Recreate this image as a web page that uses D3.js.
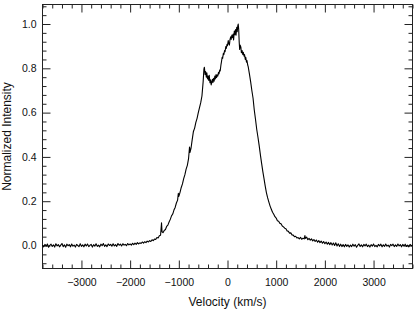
<!DOCTYPE html>
<html>
<head>
<meta charset="utf-8">
<script src="https://cdn.jsdelivr.net/npm/d3@7"></script>
<style>
  html, body { margin: 0; padding: 0; background: #fff; }
  svg { display: block; }
  text { font-family: "Liberation Sans", Arial, sans-serif; fill: #111; }
</style>
</head>
<body>
<svg id="chart" width="415" height="311"></svg>
<script>
// spectrum: [velocity (km/s), normalized intensity]
const spectrum = [
  [-3800,0.002],[-3775,-0.006],[-3750,0.005],[-3725,-0.003],[-3700,0.007],[-3675,-0.008],[-3650,0.001],[-3625,0.006],[-3600,-0.004],[-3575,0.003],
  [-3550,-0.007],[-3525,0.008],[-3500,-0.002],[-3475,0.004],[-3450,-0.006],[-3425,0.002],[-3400,0.009],[-3375,-0.005],[-3350,0.003],[-3325,-0.008],
  [-3300,0.006],[-3275,-0.001],[-3250,0.004],[-3225,-0.006],[-3200,0.007],[-3175,-0.003],[-3150,0.002],[-3125,-0.007],[-3100,0.005],[-3075,0.000],
  [-3050,-0.005],[-3025,0.008],[-3000,-0.004],[-2975,0.003],[-2950,-0.006],[-2925,0.006],[-2900,-0.002],[-2875,0.007],[-2850,-0.005],[-2825,0.001],
  [-2800,0.005],[-2775,-0.007],[-2750,0.004],[-2725,-0.003],[-2700,0.008],[-2675,-0.004],[-2650,0.002],[-2625,-0.006],[-2600,0.006],[-2575,-0.001],
  [-2550,0.009],[-2525,-0.004],[-2500,0.003],[-2475,-0.005],[-2450,0.007],[-2425,0.000],[-2400,0.005],[-2375,-0.003],[-2350,0.008],[-2325,-0.002],
  [-2300,0.004],[-2275,-0.004],[-2250,0.009],[-2225,0.001],[-2200,0.006],[-2175,-0.002],[-2150,0.008],[-2125,0.002],[-2100,0.005],[-2075,-0.001],
  [-2050,0.009],[-2025,0.003],[-2000,0.007],
  [-1975,0.002],[-1950,0.010],[-1925,0.004],[-1900,0.011],[-1875,0.005],[-1850,0.013],[-1825,0.007],[-1800,0.012],[-1775,0.009],[-1750,0.016],
  [-1725,0.011],[-1700,0.017],[-1675,0.013],[-1650,0.020],[-1625,0.016],[-1600,0.022],[-1575,0.018],[-1550,0.026],[-1525,0.022],[-1500,0.029],
  [-1475,0.027],[-1450,0.036],[-1425,0.034],[-1400,0.044],[-1375,0.046],[-1355,0.102],[-1345,0.062],[-1325,0.058],[-1300,0.068],[-1275,0.072],
  [-1250,0.086],[-1225,0.092],[-1200,0.106],[-1175,0.118],[-1150,0.134],[-1125,0.142],[-1100,0.160],[-1075,0.172],[-1050,0.192],[-1025,0.205],
  [-1010,0.236],[-1000,0.222],[-975,0.240],[-950,0.262],[-925,0.278],[-900,0.302],[-875,0.320],[-850,0.345],[-825,0.362],[-800,0.392],
  [-780,0.445],[-770,0.420],[-750,0.438],[-725,0.478],[-700,0.515],[-675,0.530],[-650,0.556],[-625,0.574],[-600,0.600],[-575,0.622],
  [-550,0.645],[-525,0.675],[-500,0.740],[-485,0.795],[-475,0.805],[-460,0.772],[-450,0.785],[-435,0.760],[-425,0.780],[-410,0.752],
  [-400,0.765],[-385,0.745],[-375,0.768],[-360,0.735],[-350,0.748],[-335,0.725],[-325,0.738],[-310,0.750],[-300,0.735],[-285,0.755],
  [-275,0.742],[-260,0.765],[-250,0.752],[-235,0.772],[-225,0.758],[-210,0.770],[-200,0.765],[-185,0.782],[-175,0.775],[-160,0.792],
  [-150,0.788],[-135,0.815],[-125,0.828],[-110,0.850],[-100,0.845],[-85,0.868],[-75,0.862],[-60,0.880],[-50,0.875],[-35,0.898],
  [-25,0.890],[-10,0.908],[0,0.902],[15,0.925],[25,0.912],[40,0.905],[50,0.928],[65,0.942],[75,0.930],[90,0.950],
  [100,0.938],[115,0.955],[125,0.928],[140,0.968],[150,0.952],[165,0.975],[175,0.950],[190,0.985],[200,0.965],[210,0.990],
  [220,1.000],[230,0.975],[240,0.920],[250,0.885],[260,0.905],[275,0.895],[285,0.870],[300,0.880],[315,0.862],[325,0.872],
  [340,0.855],[350,0.862],[365,0.840],[375,0.850],[390,0.828],[400,0.835],[415,0.815],[425,0.808],[450,0.775],[475,0.740],
  [500,0.700],[525,0.665],[550,0.612],[575,0.570],[600,0.525],[625,0.490],[650,0.452],[675,0.410],[700,0.372],[725,0.335],
  [750,0.302],[775,0.268],[800,0.238],[825,0.215],[850,0.196],[875,0.178],[900,0.164],[925,0.150],[950,0.141],[975,0.130],
  [1000,0.124],[1025,0.112],[1050,0.110],[1075,0.100],[1100,0.098],[1125,0.088],[1150,0.084],[1175,0.078],[1200,0.076],[1225,0.066],
  [1250,0.064],[1275,0.056],[1300,0.057],[1325,0.048],[1350,0.047],[1375,0.040],[1400,0.042],[1425,0.034],[1450,0.036],[1475,0.030],
  [1500,0.037],[1525,0.028],[1550,0.033],[1575,0.030],[1590,0.045],[1600,0.032],[1625,0.038],[1650,0.026],[1675,0.032],[1700,0.024],
  [1725,0.030],[1750,0.021],[1775,0.027],[1800,0.018],[1825,0.025],[1850,0.015],[1875,0.022],[1900,0.013],[1925,0.020],[1950,0.010],
  [1975,0.018],[2000,0.008],[2025,0.016],[2050,0.006],[2075,0.014],[2100,0.004],[2125,0.013],[2150,0.002],[2175,0.011],[2200,0.000],
  [2225,0.012],[2250,-0.002],[2275,0.008],[2300,-0.004],[2325,0.006],[2350,-0.005],[2375,0.004],[2400,-0.006],[2425,0.005],
  [2450,-0.004],[2475,0.003],[2500,-0.007],[2525,0.002],[2550,-0.005],[2575,0.006],[2600,-0.003],[2625,0.004],[2650,-0.008],[2675,0.001],
  [2700,0.007],[2725,-0.004],[2750,0.003],[2775,-0.006],[2800,0.005],[2825,-0.002],[2850,0.006],[2875,-0.005],[2900,0.002],[2925,-0.007],
  [2950,0.004],[2975,-0.003],[3000,0.007],[3025,-0.005],[3050,0.001],[3075,-0.006],[3100,0.005],[3125,-0.002],[3150,0.006],[3175,-0.006],
  [3200,0.003],[3225,-0.004],[3250,0.007],[3275,-0.003],[3300,0.002],[3325,-0.007],[3350,0.005],[3375,-0.001],[3400,0.006],[3425,-0.005],
  [3450,0.003],[3475,-0.004],[3500,0.007],[3525,-0.002],[3550,0.004],[3575,-0.006],[3600,0.005],[3625,-0.003],[3650,0.006],[3675,-0.004],
  [3700,0.002],[3725,-0.006],[3750,0.005],[3775,-0.002],[3800,0.003]
];
const xMajorTicks = [-3000, -2000, -1000, 0, 1000, 2000, 3000];
const xMinorTicks = [-3800,-3600,-3400,-3200,-2800,-2600,-2400,-2200,-1800,-1600,-1400,-1200,-800,-600,-400,-200,
                     200,400,600,800,1200,1400,1600,1800,2200,2400,2600,2800,3200,3400,3600,3800];
const yMajorTicks = [0.0, 0.2, 0.4, 0.6, 0.8, 1.0];
const yMinorTicks = [-0.08,-0.04,0.04,0.08,0.12,0.16,0.24,0.28,0.32,0.36,0.44,0.48,0.52,0.56,0.64,0.68,0.72,0.76,0.84,0.88,0.92,0.96,1.04,1.08];
const xTitle = "Velocity (km/s)";
const yTitle = "Normalized Intensity";

const svg = d3.select("#chart");
const L = 42.5, R = 412.5, T = 4.5, B = 268.5;
const x = d3.scaleLinear().domain([-3800, 3800]).range([L, R]);
const y = d3.scaleLinear().domain([-0.1038, 1.0881]).range([B, T]);

const axisColor = "#222";
function styleAxis(g) {
  g.select(".domain").remove();
  g.selectAll(".tick line").attr("stroke", axisColor).attr("stroke-width", 1);
  g.selectAll(".tick text").attr("font-size", 10.5).attr("fill", "#111")
    .style("font-family", "'Liberation Sans', Arial, sans-serif");
}

// bottom
svg.append("g").attr("transform", `translate(0,${B})`)
  .call(d3.axisBottom(x).tickValues(xMajorTicks).tickSizeInner(-8).tickSizeOuter(0).tickPadding(10).tickFormat(d3.format("d")))
  .call(styleAxis);
svg.append("g").attr("transform", `translate(0,${B})`)
  .call(d3.axisBottom(x).tickValues(xMinorTicks).tickSizeInner(-4).tickSizeOuter(0).tickFormat(""))
  .call(styleAxis);
// top
svg.append("g").attr("transform", `translate(0,${T})`)
  .call(d3.axisTop(x).tickValues(xMajorTicks).tickSizeInner(-8).tickSizeOuter(0).tickFormat(""))
  .call(styleAxis);
svg.append("g").attr("transform", `translate(0,${T})`)
  .call(d3.axisTop(x).tickValues(xMinorTicks).tickSizeInner(-4).tickSizeOuter(0).tickFormat(""))
  .call(styleAxis);
// left
svg.append("g").attr("transform", `translate(${L},0)`)
  .call(d3.axisLeft(y).tickValues(yMajorTicks).tickSizeInner(-8).tickSizeOuter(0).tickPadding(6).tickFormat(d3.format(".1f")))
  .call(styleAxis);
svg.append("g").attr("transform", `translate(${L},0)`)
  .call(d3.axisLeft(y).tickValues(yMinorTicks).tickSizeInner(-4).tickSizeOuter(0).tickFormat(""))
  .call(styleAxis);
// right
svg.append("g").attr("transform", `translate(${R},0)`)
  .call(d3.axisRight(y).tickValues(yMajorTicks).tickSizeInner(-8).tickSizeOuter(0).tickFormat(""))
  .call(styleAxis);
svg.append("g").attr("transform", `translate(${R},0)`)
  .call(d3.axisRight(y).tickValues(yMinorTicks).tickSizeInner(-4).tickSizeOuter(0).tickFormat(""))
  .call(styleAxis);

// frame
svg.append("rect").attr("x", L).attr("y", T).attr("width", R - L).attr("height", B - T)
  .attr("fill", "none").attr("stroke", axisColor).attr("stroke-width", 1);

// data line
svg.append("path").datum(spectrum)
  .attr("fill", "none").attr("stroke", "#000").attr("stroke-width", 1.1)
  .attr("stroke-linejoin", "round")
  .attr("d", d3.line().x(d => x(d[0])).y(d => y(d[1])));

// titles
svg.append("text").attr("x", (L + R) / 2).attr("y", 306)
  .attr("text-anchor", "middle").attr("font-size", 12).text(xTitle);
svg.append("text").attr("transform", `translate(11,${(T + B) / 2}) rotate(-90)`)
  .attr("text-anchor", "middle").attr("font-size", 12).text(yTitle);
</script>
</body>
</html>
